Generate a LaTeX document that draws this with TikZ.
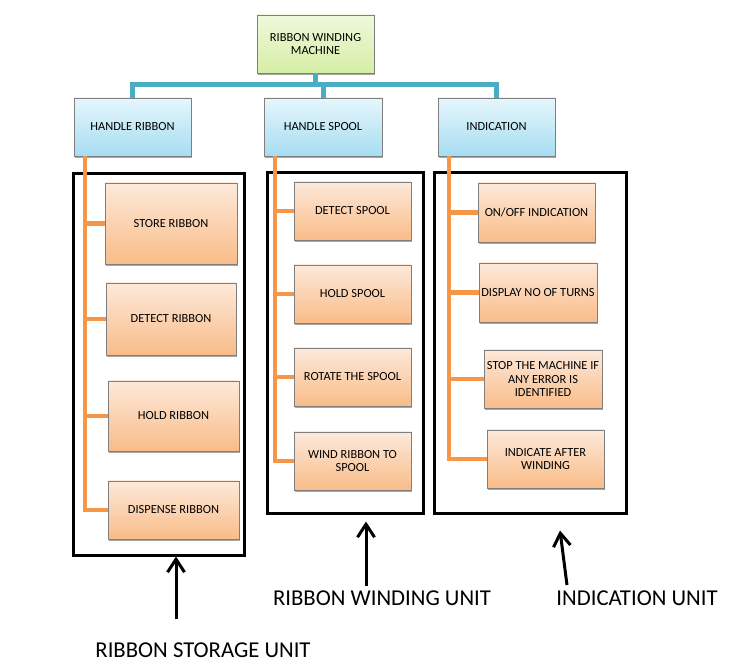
\documentclass[tikz,border=0pt]{standalone}
\usepackage{fontspec}
\setmainfont{Carlito}
\usetikzlibrary{arrows.meta,shadows}
\definecolor{tealline}{HTML}{4BACC6}
\definecolor{orangeline}{HTML}{F79646}
\definecolor{boxborder}{HTML}{7F7F7F}
\definecolor{orTop}{HTML}{FDE9DA}
\definecolor{orBot}{HTML}{F9BC88}
\definecolor{blTop}{HTML}{E6F6FC}
\definecolor{blBot}{HTML}{A6DDF1}
\definecolor{grTop}{HTML}{EFF9DC}
\definecolor{grBot}{HTML}{D5EEA5}
\begin{document}
\begin{tikzpicture}[x=1pt,y=-1pt,
  box/.style={draw=boxborder, line width=0.6pt, inner sep=1pt, align=center,
    font=\fontsize{12.4}{13.6}\selectfont, minimum width=117pt, minimum height=58pt,
    drop shadow={shadow xshift=1.2pt, shadow yshift=-1.8pt, opacity=0.35, fill=black}},
  obox/.style={box, top color=orTop, bottom color=orBot},
  bbox/.style={box, top color=blTop, bottom color=blBot},
  gbox/.style={box, top color=grTop, bottom color=grBot},
  frame/.style={draw=black, line width=3pt, inner sep=0pt},
  tline/.style={draw=tealline, line width=5pt},
  oline/.style={draw=orangeline, line width=4.5pt},
  unitlabel/.style={font=\fontsize{22.7}{26}\selectfont, inner sep=0pt},
  uarrow/.style={draw=black, line width=3pt, -{Straight Barb[length=13pt,width=17pt]}}
]
\useasboundingbox (0,0) rectangle (729,668);

% frames
\node[frame, minimum width=171pt, minimum height=381pt] (fl) at (158.5,364.5) {};
\node[frame, minimum width=156pt, minimum height=340pt] (fm) at (345,343) {};
\node[frame, minimum width=192pt, minimum height=340pt] (fr) at (530,343) {};

% connector coordinates
\coordinate (bus) at (0,85);
\coordinate (xl) at (85,0);
\coordinate (xm) at (275,0);
\coordinate (xr) at (449,0);

% top levels
\node[gbox] (mach) at (315.5,44) {RIBBON WINDING\\MACHINE};
\node[bbox] (hr) at (132.5,127) {HANDLE RIBBON};
\node[bbox, minimum width=118pt] (hs) at (323,127) {HANDLE SPOOL};
\node[bbox] (ind) at (496.5,127) {INDICATION};

% teal connectors
\draw[tline] (mach.south) -- (mach.south |- bus);
\draw[tline] (hr.north) -- (hr.north |- bus) -| (ind.north);
\draw[tline] (hs.north |- bus) -- (hs.north);

% left column
\node[obox, minimum width=132pt, minimum height=81pt] (store) at (171,223.5) {STORE RIBBON};
\node[obox, minimum width=130pt, minimum height=72pt] (detr) at (171,319) {DETECT RIBBON};
\node[obox, minimum width=131pt, minimum height=70pt] (holdr) at (173.5,416) {HOLD RIBBON};
\node[obox, minimum width=131pt] (disp) at (173.5,510) {DISPENSE RIBBON};

% middle column
\node[obox] (dets) at (352.5,211) {DETECT SPOOL};
\node[obox] (holds) at (352.5,294) {HOLD SPOOL};
\node[obox] (rot) at (352.5,377) {ROTATE THE SPOOL};
\node[obox] (wind) at (352.5,461) {WIND RIBBON TO\\SPOOL};

% right column
\node[obox, minimum height=59pt] (onoff) at (536.5,212.5) {ON/OFF INDICATION};
\node[obox, minimum width=118pt, minimum height=59pt] (disn) at (538,292.5) {DISPLAY NO OF TURNS};
\node[obox, minimum width=118pt] (stop) at (543,379) {STOP THE MACHINE IF\\ANY ERROR IS\\IDENTIFIED};
\node[obox] (inda) at (545.5,459) {INDICATE AFTER\\WINDING};

% orange connectors
\draw[oline] (hr.south -| xl) |- (disp.west);
\draw[oline] (xl |- store.west) -- (store.west);
\draw[oline] (xl |- detr.west) -- (detr.west);
\draw[oline] (xl |- holdr.west) -- (holdr.west);

\draw[oline] (hs.south -| xm) |- (wind.west);
\draw[oline] (xm |- dets.west) -- (dets.west);
\draw[oline] (xm |- holds.west) -- (holds.west);
\draw[oline] (xm |- rot.west) -- (rot.west);

\draw[oline] (ind.south -| xr) |- (inda.west);
\draw[oline] (xr |- onoff.west) -- (onoff.west);
\draw[oline] (xr |- disn.west) -- (disn.west);
\draw[oline] (xr |- stop.west) -- (stop.west);

% unit labels
\node[unitlabel] (ls) at (203,650) {RIBBON STORAGE UNIT};
\node[unitlabel] (lw) at (382,598) {RIBBON WINDING UNIT};
\node[unitlabel] (li) at (637,598) {INDICATION UNIT};

\coordinate (t1) at (176,619);
\coordinate (t2) at (366,586);
\coordinate (t3) at (567,585);
\draw[uarrow] (t1) -- (t1 |- fl.south);
\draw[uarrow] (t2) -- ([yshift=-7pt]t2 |- fm.south);
\draw[uarrow] (t3) -- ([xshift=-7pt,yshift=-16pt]t3 |- fr.south);
\end{tikzpicture}
\end{document}
